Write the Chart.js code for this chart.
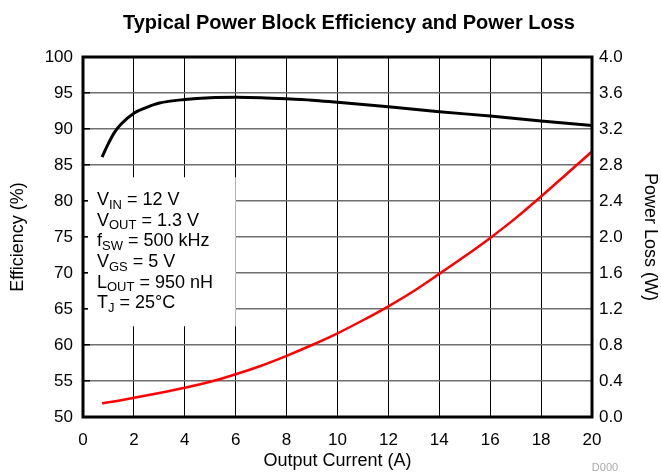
<!DOCTYPE html>
<html>
<head>
<meta charset="utf-8">
<script src="https://cdn.jsdelivr.net/npm/chart.js@4"></script>
<style>
    html, body { margin: 0; padding: 0; background: #fff; }
    #wrap { width: 661px; height: 474px; position: relative; }
</style>
</head>
<body>
<div id="wrap"><canvas id="chart" width="661" height="474"></canvas></div>
<script>
// Data
const currentEff = [0.75, 1, 1.25, 1.5, 2, 2.5, 3, 4, 5, 6, 7, 8, 9, 10, 12, 14, 16, 18, 20];
const efficiency = [86.1, 88.0, 89.6, 90.7, 92.2, 93.0, 93.6, 94.1, 94.35, 94.4, 94.35, 94.2, 94.0, 93.7, 93.1, 92.4, 91.8, 91.1, 90.5];

const currentLoss = [0.75, 1, 2, 3, 4, 5, 6, 7, 8, 9, 10, 11, 12, 13, 14, 15, 16, 17, 18, 19, 20];
const powerLoss = [0.152, 0.163, 0.214, 0.267, 0.325, 0.392, 0.475, 0.57, 0.68, 0.80, 0.93, 1.075, 1.23, 1.40, 1.59, 1.785, 1.99, 2.21, 2.45, 2.70, 2.95];

const conditions = [
    ['V', 'IN', ' = 12 V'],
    ['V', 'OUT', ' = 1.3 V'],
    ['f', 'SW', ' = 500 kHz'],
    ['V', 'GS', ' = 5 V'],
    ['L', 'OUT', ' = 950 nH'],
    ['T', 'J', ' = 25\u00B0C']
];

const FONT = "'Liberation Sans', Arial, Helvetica, sans-serif";

// Title, condition box, border and footnote
const decorPlugin = {
    id: 'decor',
    beforeDatasetsDraw(chart) {
        const ctx = chart.ctx;
        const area = chart.chartArea;
        const x = chart.scales.x;
        const y = chart.scales.y;
        // white box that hides the grid behind the conditions
        ctx.save();
        ctx.fillStyle = '#fff';
        const bx = area.left + 5;
        const bTop = y.getPixelForValue(83.3);
        const bBot = y.getPixelForValue(62.6);
        ctx.fillRect(bx, bTop, x.getPixelForValue(6) - bx, bBot - bTop);

        ctx.fillStyle = '#000';
        ctx.textBaseline = 'middle';
        conditions.forEach((c, i) => {
            const ly = bTop + 23 + i * 20.6;
            let lx = area.left + 14;
            ctx.font = '18px ' + FONT;
            ctx.fillText(c[0], lx, ly);
            lx += ctx.measureText(c[0]).width;
            ctx.font = '13px ' + FONT;
            ctx.fillText(c[1], lx, ly + 5);
            lx += ctx.measureText(c[1]).width;
            ctx.font = '18px ' + FONT;
            ctx.fillText(c[2], lx, ly);
        });
        ctx.restore();
    },
    afterDraw(chart) {
        const ctx = chart.ctx;
        const area = chart.chartArea;
        ctx.save();
        ctx.strokeStyle = '#000';
        ctx.lineWidth = 3;
        ctx.strokeRect(area.left, area.top, area.right - area.left, area.bottom - area.top);

        ctx.fillStyle = '#000';
        ctx.font = 'bold 20px ' + FONT;
        ctx.textAlign = 'center';
        ctx.textBaseline = 'middle';
        ctx.fillText('Typical Power Block Efficiency and Power Loss', 349, 23);

        ctx.fillStyle = '#aaa';
        ctx.font = '11px ' + FONT;
        ctx.fillText('D000', 605, 468);
        ctx.restore();
    }
};

new Chart(document.getElementById('chart'), {
    type: 'line',
    data: {
        datasets: [{
            label: 'Efficiency',
            data: currentEff.map((c, i) => ({ x: c, y: efficiency[i] })),
            borderColor: '#000',
            borderWidth: 3,
            pointRadius: 0,
            cubicInterpolationMode: 'monotone',
            yAxisID: 'y'
        }, {
            label: 'Power Loss',
            data: currentLoss.map((c, i) => ({ x: c, y: powerLoss[i] })),
            borderColor: '#ff0000',
            borderWidth: 2.5,
            pointRadius: 0,
            cubicInterpolationMode: 'monotone',
            yAxisID: 'y2'
        }]
    },
    options: {
        responsive: false,
        animation: false,
        devicePixelRatio: 1,
        layout: { padding: { top: 57, left: 0, right: 0, bottom: 0 } },
        plugins: {
            legend: { display: false },
            tooltip: { enabled: false }
        },
        scales: {
            x: {
                type: 'linear',
                min: 0,
                max: 20,
                ticks: { stepSize: 2, color: '#000', font: { family: FONT, size: 17 }, padding: 13, maxRotation: 0 },
                grid: { color: '#000', lineWidth: 1, drawTicks: false },
                border: { display: false },
                title: { display: true, text: 'Output Current (A)', color: '#000', font: { family: FONT, size: 18 }, padding: { top: 0, bottom: 2 } },
                afterFit(scale) { scale.height = 57; }
            },
            y: {
                position: 'left',
                min: 50,
                max: 100,
                ticks: { stepSize: 5, color: '#000', font: { family: FONT, size: 17 }, padding: 17 },
                grid: { color: '#6e6e6e', lineWidth: 1.5, drawTicks: true, tickLength: -7, tickColor: '#000' },
                border: { display: false },
                title: { display: true, text: 'Efficiency (%)', color: '#000', font: { family: FONT, size: 18 }, padding: { top: 7, bottom: 0 } },
                afterFit(scale) { scale.width = 83; }
            },
            y2: {
                position: 'right',
                min: 0,
                max: 4,
                ticks: { stepSize: 0.4, color: '#000', font: { family: FONT, size: 17 }, padding: 7,
                    callback: v => Number(v).toFixed(1) },
                grid: { drawOnChartArea: false, drawTicks: false },
                border: { display: false },
                title: { display: true, text: 'Power Loss (W)', color: '#000', font: { family: FONT, size: 18 }, padding: { top: 0, bottom: 0 } },
                afterFit(scale) { scale.width = 69; }
            }
        }
    },
    plugins: [decorPlugin]
});
</script>
</body>
</html>
